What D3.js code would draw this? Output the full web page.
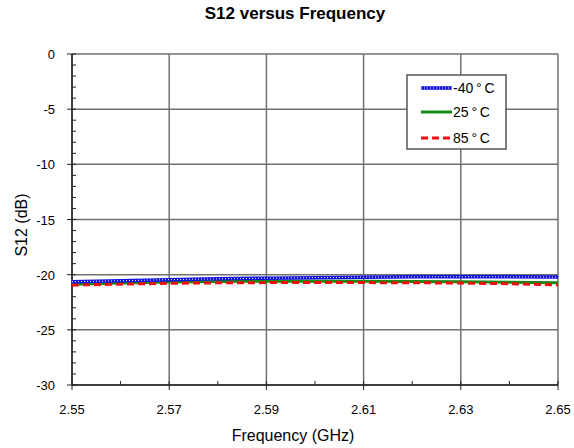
<!DOCTYPE html>
<html>
<head>
<meta charset="utf-8">
<script src="https://cdn.jsdelivr.net/npm/d3@7"></script>
<style>
  body { margin: 0; background: #fff; }
  text { font-family: "Liberation Sans", Arial, sans-serif; }
</style>
</head>
<body>
<div id="chart"></div>
<script>
var freq = [2.55, 2.56, 2.57, 2.58, 2.59, 2.60, 2.61, 2.62, 2.63, 2.64, 2.65];
var sMinus40 = [-20.64, -20.55, -20.45, -20.38, -20.32, -20.27, -20.23, -20.20, -20.19, -20.20, -20.22];
var s25 = [-20.86, -20.76, -20.66, -20.62, -20.60, -20.60, -20.60, -20.62, -20.64, -20.68, -20.74];
var s85 = [-20.94, -20.86, -20.78, -20.74, -20.72, -20.72, -20.72, -20.73, -20.76, -20.82, -20.92];
var legendLabels = ["-40\u2009\u00B0\u2009C", "25\u2009\u00B0\u2009C", "85\u2009\u00B0\u2009C"];
var xTicks = [2.55, 2.57, 2.59, 2.61, 2.63, 2.65];
var yTicks = [0, -5, -10, -15, -20, -25, -30];

var margin = {top: 54, right: 16, bottom: 63, left: 72},
    width = 574 - margin.left - margin.right,
    height = 448 - margin.top - margin.bottom;

var svg = d3.select("#chart")
  .append("svg")
    .attr("width", 574)
    .attr("height", 448)
  .append("g")
    .attr("transform", "translate(" + margin.left + "," + margin.top + ")");

var x = d3.scaleLinear().domain([2.55, 2.65]).range([0, width]);
var y = d3.scaleLinear().domain([-30, 0]).range([height, 0]);

// grid
svg.append("g")
  .selectAll("line")
  .data(xTicks)
  .enter().append("line")
    .attr("x1", function(d) { return x(d); })
    .attr("x2", function(d) { return x(d); })
    .attr("y1", 0).attr("y2", height)
    .attr("stroke", "#707070").attr("stroke-width", 1.5);
svg.append("g")
  .selectAll("line")
  .data(yTicks)
  .enter().append("line")
    .attr("y1", function(d) { return y(d); })
    .attr("y2", function(d) { return y(d); })
    .attr("x1", 0).attr("x2", width)
    .attr("stroke", "#707070").attr("stroke-width", 1.5);

// minor ticks on left (1 dB) and bottom (0.01 GHz)
svg.append("g")
  .selectAll("line")
  .data(d3.range(-30, 1, 1))
  .enter().append("line")
    .attr("x1", function(d) { return d % 5 === 0 ? -5 : 0; })
    .attr("x2", 4)
    .attr("y1", function(d) { return y(d); })
    .attr("y2", function(d) { return y(d); })
    .attr("stroke", "#222");
svg.append("g")
  .selectAll("line")
  .data(freq)
  .enter().append("line")
    .attr("x1", function(d) { return x(d); })
    .attr("x2", function(d) { return x(d); })
    .attr("y1", height - 4)
    .attr("y2", function(d, i) { return i % 2 === 0 ? height + 5 : height; })
    .attr("stroke", "#222");

// axis lines
svg.append("line").attr("x1", 0).attr("x2", 0).attr("y1", 0).attr("y2", height)
  .attr("stroke", "#222").attr("stroke-width", 1.5);
svg.append("line").attr("x1", 0).attr("x2", width).attr("y1", height).attr("y2", height)
  .attr("stroke", "#222").attr("stroke-width", 1.5);

// tick labels
svg.append("g")
  .selectAll("text")
  .data(yTicks)
  .enter().append("text")
    .attr("x", -17)
    .attr("y", function(d) { return y(d) + 5; })
    .attr("text-anchor", "end")
    .style("font-size", "13px")
    .text(function(d) { return d; });
svg.append("g")
  .selectAll("text")
  .data(xTicks)
  .enter().append("text")
    .attr("x", function(d) { return x(d); })
    .attr("y", height + 29)
    .attr("text-anchor", "middle")
    .style("font-size", "13px")
    .text(function(d) { return d.toFixed(2); });

// lines
var line = function(vals) {
  return d3.line()
    .x(function(d, i) { return x(freq[i]); })
    .y(function(d) { return y(d); })(vals);
};
svg.append("path").attr("d", line(s25)).attr("fill", "none")
  .attr("stroke", "#138a13").attr("stroke-width", 3);
svg.append("path").attr("d", line(s85)).attr("fill", "none")
  .attr("stroke", "#f01010").attr("stroke-width", 3).attr("stroke-dasharray", "7,4");
svg.append("path").attr("d", line(sMinus40)).attr("fill", "none")
  .attr("stroke", "#1010e0").attr("stroke-width", 3.5);
svg.append("path").attr("d", line(sMinus40)).attr("fill", "none")
  .attr("stroke", "#fff").attr("stroke-width", 1).attr("stroke-dasharray", "1,2");

// legend
var lg = svg.append("g").attr("transform", "translate(" + (407 - margin.left) + "," + (75 - margin.top) + ")");
lg.append("rect").attr("width", 99).attr("height", 74)
  .attr("fill", "#fff").attr("stroke", "#555").attr("stroke-width", 1.5);
var ly = [13, 37, 63];
lg.append("line").attr("x1", 14).attr("x2", 45).attr("y1", ly[0]).attr("y2", ly[0])
  .attr("stroke", "#1010e0").attr("stroke-width", 3.5);
lg.append("line").attr("x1", 14).attr("x2", 45).attr("y1", ly[0]).attr("y2", ly[0])
  .attr("stroke", "#fff").attr("stroke-width", 1).attr("stroke-dasharray", "1,2");
lg.append("line").attr("x1", 14).attr("x2", 45).attr("y1", ly[1]).attr("y2", ly[1])
  .attr("stroke", "#138a13").attr("stroke-width", 3);
lg.append("line").attr("x1", 14).attr("x2", 45).attr("y1", ly[2]).attr("y2", ly[2])
  .attr("stroke", "#f01010").attr("stroke-width", 3).attr("stroke-dasharray", "7,4");
lg.selectAll("text.lbl")
  .data(legendLabels)
  .enter().append("text")
    .attr("class", "lbl")
    .attr("x", 46)
    .attr("y", function(d, i) { return ly[i] + 5; })
    .style("font-size", "14px")
    .text(function(d) { return d; });

// titles, centred a little left of the plot centre as in the original
svg.append("text")
  .attr("x", 295 - margin.left)
  .attr("y", -35)
  .attr("text-anchor", "middle")
  .style("font-size", "17px")
  .style("font-weight", "bold")
  .text("S12 versus Frequency");

svg.append("text")
  .attr("x", 293 - margin.left)
  .attr("y", height + 56)
  .attr("text-anchor", "middle")
  .style("font-size", "16px")
  .text("Frequency (GHz)");

svg.append("text")
  .attr("transform", "rotate(-90)")
  .attr("x", -(225 - margin.top))
  .attr("y", -45)
  .attr("text-anchor", "middle")
  .style("font-size", "16px")
  .text("S12 (dB)");
</script>
</body>
</html>
